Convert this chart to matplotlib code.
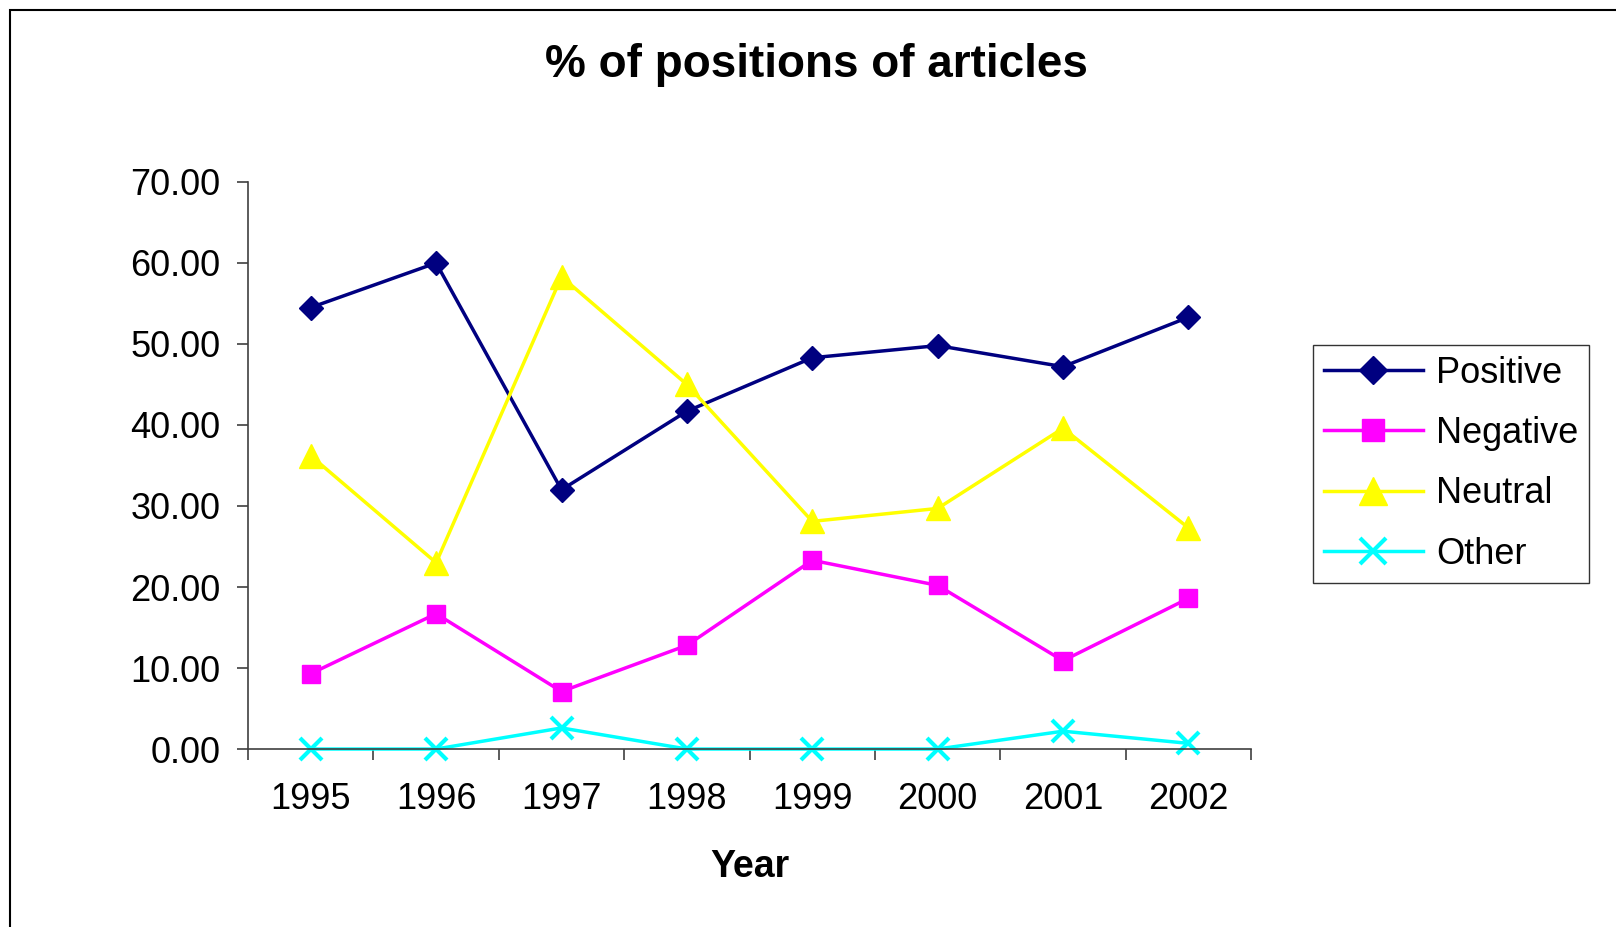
import matplotlib
matplotlib.use('Agg')
import matplotlib.pyplot as plt
from matplotlib.patches import Rectangle
from matplotlib.ticker import FixedLocator, FormatStrFormatter

years = ['1995', '1996', '1997', '1998', '1999', '2000', '2001', '2002']
positive = [54.5, 60.0, 32.0, 41.7, 48.3, 49.8, 47.2, 53.3]
negative = [9.3, 16.7, 7.1, 12.8, 23.3, 20.2, 10.9, 18.6]
neutral = [36.2, 23.0, 58.3, 45.0, 28.1, 29.7, 39.6, 27.3]
other = [0.0, 0.0, 2.6, 0.0, 0.0, 0.0, 2.2, 0.7]

plt.rcParams['font.family'] = ['Liberation Sans', 'DejaVu Sans']

fig = plt.figure(figsize=(16.16, 9.27), dpi=100)
ax = fig.add_axes([0.1535, 0.192, 0.6207, 0.6117])

x = range(len(years))
ax.plot(x, positive, color='#000080', lw=2.5, marker='D', ms=12, label='Positive')
ax.plot(x, negative, color='#FF00FF', lw=2.5, marker='s', ms=13, label='Negative')
ax.plot(x, neutral, color='#FFFF00', lw=2.5, marker='^', ms=17, label='Neutral')
ax.plot(x, other, color='#00FFFF', lw=2.5, marker='x', ms=16, mew=3, label='Other')

ax.set_xlim(-0.5, len(years) - 0.5)
ax.set_ylim(0, 70)
ax.set_yticks([0, 10, 20, 30, 40, 50, 60, 70])
ax.yaxis.set_major_formatter(FormatStrFormatter('%.2f'))
ax.set_xticks(list(x))
ax.set_xticklabels(years)
ax.xaxis.set_minor_locator(FixedLocator([i - 0.5 for i in range(len(years) + 1)]))
ax.tick_params(axis='x', which='major', length=0, pad=24, labelsize=26)
ax.tick_params(axis='x', which='minor', length=8, width=1.2, color='#404040')
ax.tick_params(axis='y', length=8, width=1.2, color='#404040', pad=12, labelsize=26)
for s in ['top', 'right']:
    ax.spines[s].set_visible(False)
for s in ['left', 'bottom']:
    ax.spines[s].set_color('#404040')
    ax.spines[s].set_linewidth(1.2)
for line in ax.lines:
    line.set_clip_on(False)

ax.set_xlabel('Year', fontsize=27, fontweight='bold', labelpad=23)
fig.text(0.505, 0.93, '% of positions of articles', fontsize=33, fontweight='bold',
         ha='center', va='center')

leg = ax.legend(loc='upper left', bbox_to_anchor=(1313 / 1616, 1 - 345 / 927),
                bbox_transform=fig.transFigure, borderaxespad=0, fontsize=26,
                frameon=True, fancybox=False, edgecolor='black', handlelength=2.75,
                handletextpad=0.35, labelspacing=0.7, borderpad=0.3,
                markerscale=1.2)
leg.get_frame().set_linewidth(1.0)

fig.patches.append(Rectangle((10 / 1616, -0.05), 1.1, 1 - 10 / 927 + 0.05,
                             transform=fig.transFigure, fill=False,
                             edgecolor='black', lw=1.5))

plt.savefig('out.png', dpi=100)
